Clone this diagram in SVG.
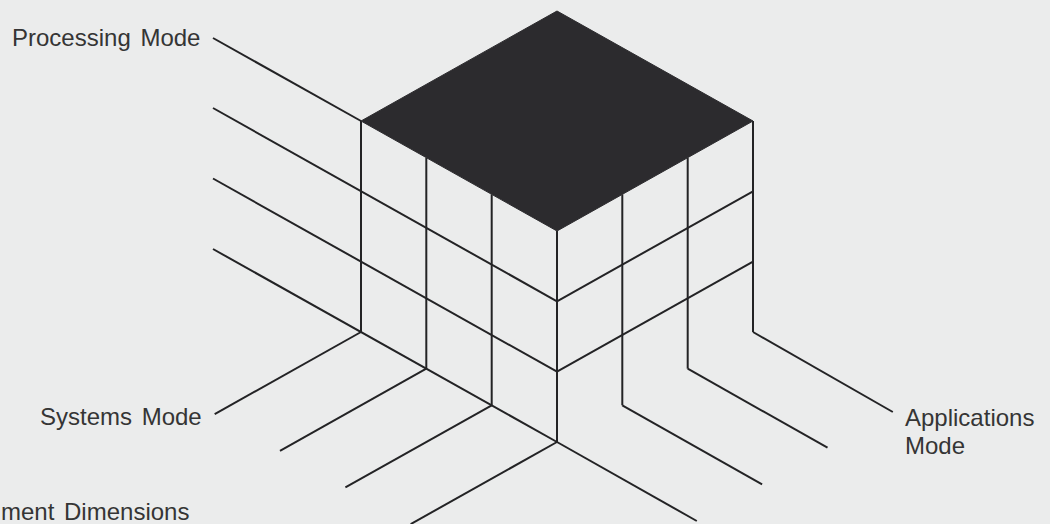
<svg xmlns="http://www.w3.org/2000/svg" width="1050" height="524" viewBox="0 0 1050 524">
  <style>
    .ln { stroke: #232325; stroke-width: 2; fill: none; stroke-linecap: butt; }
    .top { fill: #2c2b2e; stroke: #2c2b2e; stroke-width: 1; stroke-linejoin: miter; }
    .lbl { font-family: "Liberation Sans", Arial, sans-serif; font-size: 24px; fill: #353535; word-spacing: 3px; }
  </style>
  <rect x="0" y="0" width="1050" height="524" fill="#ebecec"/>

  <g id="connectors">
    <!-- Processing Mode axis: left-face horizontals extended up-left -->
    <g id="processing-axis-lines">
      <line class="ln" x1="557" y1="442" x2="213" y2="249"/>
      <line class="ln" x1="557" y1="371.7" x2="213" y2="178.5"/>
      <line class="ln" x1="557" y1="301.3" x2="213" y2="108"/>
      <line class="ln" x1="361" y1="121" x2="213" y2="38"/>
    </g>
    <!-- Systems Mode axis: floor lines extended down-left -->
    <g id="systems-axis-lines">
      <line class="ln" x1="557" y1="442" x2="410.7" y2="524.1"/>
      <line class="ln" x1="491.7" y1="405.3" x2="345.4" y2="487.4"/>
      <line class="ln" x1="426.3" y1="368.7" x2="280" y2="450.8"/>
      <line class="ln" x1="361" y1="332" x2="214.7" y2="414.1"/>
    </g>
    <!-- Applications Mode axis: floor lines extended down-right -->
    <g id="applications-axis-lines">
      <line class="ln" x1="557" y1="442" x2="696.8" y2="521"/>
      <line class="ln" x1="622.3" y1="405.3" x2="762.1" y2="484.3"/>
      <line class="ln" x1="687.7" y1="368.7" x2="827.5" y2="447.7"/>
      <line class="ln" x1="753" y1="332" x2="892.8" y2="412"/>
    </g>
  </g>

  <g id="cube">
    <g id="left-face">
      <line class="ln" x1="557" y1="442" x2="557" y2="231"/>
      <line class="ln" x1="491.7" y1="405.3" x2="491.7" y2="194.3"/>
      <line class="ln" x1="426.3" y1="368.7" x2="426.3" y2="157.7"/>
      <line class="ln" x1="361" y1="332" x2="361" y2="121"/>
    </g>
    <g id="right-face">
      <line class="ln" x1="622.3" y1="405.3" x2="622.3" y2="194.3"/>
      <line class="ln" x1="687.7" y1="368.7" x2="687.7" y2="157.7"/>
      <line class="ln" x1="753" y1="332" x2="753" y2="121"/>
      <line class="ln" x1="557" y1="371.7" x2="753" y2="261.7"/>
      <line class="ln" x1="557" y1="301.3" x2="753" y2="191.3"/>
    </g>
    <polygon id="top-face" class="top" points="557,11 753,121 557,231 361,121"/>
  </g>

  <g id="label-processing">
    <text class="lbl" x="12" y="46">Processing Mode</text>
  </g>
  <g id="label-systems">
    <text class="lbl" x="40" y="425">Systems Mode</text>
  </g>
  <g id="label-applications">
    <text class="lbl" x="905" y="426">Applications</text>
    <text class="lbl" x="905" y="454">Mode</text>
  </g>
  <g id="label-dimensions">
    <text class="lbl" x="1" y="520">ment Dimensions</text>
  </g>
</svg>
